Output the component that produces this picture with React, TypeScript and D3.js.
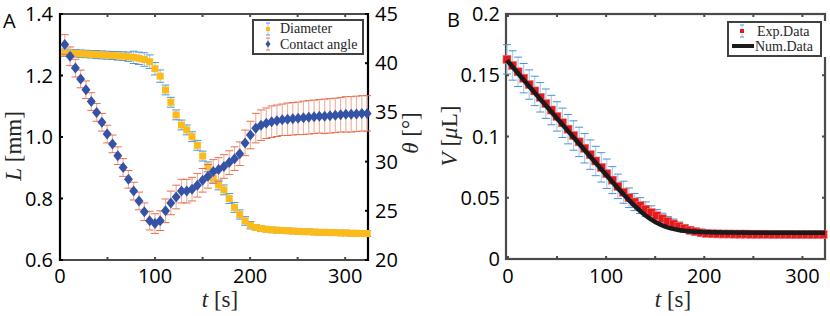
import React from 'react';
import * as d3 from 'd3';

// ---------- Panel A data ----------
const timeA = [5.0, 10.6, 16.2, 21.7, 27.3, 32.9, 38.5, 44.1, 49.6, 55.2, 60.8, 66.4, 72.0, 77.5, 83.1, 88.7, 94.3, 99.9, 105.4, 111.0, 116.6, 122.2, 127.8, 133.3, 138.9, 144.5, 150.1, 155.7, 161.2, 166.8, 172.4, 178.0, 183.6, 189.1, 194.7, 200.3, 205.9, 211.5, 217.0, 222.6, 228.2, 233.8, 239.4, 244.9, 250.5, 256.1, 261.7, 267.3, 272.8, 278.4, 284.0, 289.6, 295.2, 300.7, 306.3, 311.9, 317.5, 323.1];
const diameter = [1.274, 1.273, 1.272, 1.271, 1.270, 1.269, 1.268, 1.267, 1.266, 1.265, 1.264, 1.263, 1.261, 1.259, 1.256, 1.252, 1.245, 1.222, 1.198, 1.153, 1.113, 1.072, 1.039, 1.023, 1.001, 0.973, 0.938, 0.903, 0.866, 0.844, 0.828, 0.800, 0.771, 0.748, 0.727, 0.713, 0.706, 0.702, 0.700, 0.698, 0.697, 0.696, 0.695, 0.694, 0.693, 0.692, 0.692, 0.691, 0.690, 0.690, 0.689, 0.689, 0.688, 0.688, 0.687, 0.687, 0.686, 0.686];
const diameterErr = [0.012, 0.012, 0.012, 0.012, 0.012, 0.012, 0.013, 0.013, 0.013, 0.013, 0.014, 0.014, 0.015, 0.02, 0.02, 0.022, 0.022, 0.02, 0.02, 0.016, 0.016, 0.016, 0.016, 0.016, 0.016, 0.016, 0.016, 0.016, 0.016, 0.016, 0.016, 0.016, 0.016, 0.015, 0.014, 0.012, 0.009, 0.009, 0.009, 0.009, 0.009, 0.009, 0.009, 0.009, 0.009, 0.009, 0.009, 0.009, 0.009, 0.009, 0.009, 0.009, 0.009, 0.009, 0.009, 0.009, 0.009, 0.009];
const angle = [41.9, 40.7, 39.5, 38.4, 37.3, 36.1, 35.0, 34.0, 32.8, 31.8, 30.6, 29.4, 28.2, 27.0, 26.0, 24.9, 24.0, 23.7, 24.0, 25.0, 25.8, 26.4, 27.0, 27.0, 27.2, 27.6, 28.1, 28.5, 29.0, 29.2, 29.5, 29.9, 30.3, 30.8, 31.9, 32.7, 33.4, 33.7, 33.9, 34.05, 34.15, 34.25, 34.3, 34.35, 34.4, 34.45, 34.5, 34.55, 34.6, 34.6, 34.65, 34.7, 34.75, 34.8, 34.8, 34.85, 34.9, 34.9];
const angleErr = [1.0, 0.95, 0.9, 0.9, 0.9, 0.9, 0.9, 0.9, 0.9, 0.9, 0.9, 0.9, 0.9, 0.9, 0.9, 0.9, 0.95, 1.0, 1.0, 1.2, 1.2, 1.2, 1.2, 1.2, 1.2, 1.2, 1.2, 1.2, 1.2, 1.2, 1.2, 1.2, 1.2, 1.2, 1.3, 1.4, 1.5, 1.55, 1.55, 1.6, 1.6, 1.6, 1.65, 1.65, 1.65, 1.7, 1.7, 1.7, 1.7, 1.75, 1.75, 1.75, 1.75, 1.8, 1.8, 1.8, 1.8, 1.8];

// ---------- Panel B data ----------
const timeB = [-1.0, 4.7, 10.3, 16.0, 21.6, 27.3, 32.9, 38.6, 44.2, 49.9, 55.5, 61.2, 66.8, 72.5, 78.1, 83.8, 89.4, 95.1, 100.7, 106.4, 112.0, 117.7, 123.3, 129.0, 134.6, 140.3, 145.9, 151.6, 157.2, 162.9, 168.5, 174.2, 179.8, 185.5, 191.1, 196.8, 202.4, 208.1, 213.7, 219.4, 225.0, 230.7, 236.3, 242.0, 247.6, 253.3, 258.9, 264.6, 270.2, 275.9, 281.5, 287.2, 292.8, 298.5, 304.1, 309.8, 315.4, 321.1];
const volume = [0.1630, 0.1580, 0.1528, 0.1476, 0.1424, 0.1372, 0.1320, 0.1268, 0.1216, 0.1164, 0.1112, 0.1060, 0.1008, 0.0956, 0.0904, 0.0852, 0.0800, 0.0748, 0.0696, 0.0644, 0.0593, 0.0545, 0.0500, 0.0465, 0.0436, 0.0406, 0.0379, 0.0353, 0.0329, 0.0306, 0.0286, 0.0267, 0.0250, 0.0235, 0.0223, 0.0214, 0.0209, 0.0206, 0.0205, 0.0204, 0.0204, 0.0203, 0.0203, 0.0203, 0.0202, 0.0202, 0.0202, 0.0202, 0.0201, 0.0201, 0.0201, 0.0201, 0.0200, 0.0200, 0.0200, 0.0200, 0.0200, 0.0200];
const volumeErr = [0.012, 0.012, 0.012, 0.012, 0.012, 0.012, 0.012, 0.012, 0.012, 0.012, 0.012, 0.012, 0.012, 0.012, 0.012, 0.012, 0.012, 0.012, 0.012, 0.011, 0.010, 0.009, 0.008, 0.007, 0.0065, 0.006, 0.0055, 0.005, 0.0045, 0.004, 0.004, 0.0035, 0.003, 0.003, 0.0025, 0.0025, 0.0025, 0.0025, 0.0025, 0.0025, 0.0025, 0.0025, 0.0025, 0.0025, 0.0025, 0.0025, 0.0025, 0.0025, 0.0025, 0.0025, 0.0025, 0.0025, 0.0025, 0.0025, 0.0025, 0.0025, 0.0025, 0.0025];
const numTime = [-1, 20, 40, 60, 80, 100, 115, 125, 135, 145, 155, 165, 175, 185, 200, 230, 270, 323];
const numVolume = [0.1622, 0.1424, 0.1240, 0.1056, 0.0872, 0.0688, 0.0552, 0.0466, 0.0390, 0.0327, 0.0281, 0.0252, 0.0235, 0.0226, 0.0220, 0.0216, 0.0215, 0.0215];

// ---------- Ticks ----------
const xTicks = [0, 50, 100, 150, 200, 250, 300];
const xTickLabels = ['0', '', '100', '', '200', '', '300'];
const lTicks = [0.6, 0.8, 1.0, 1.2, 1.4];
const lTickLabels = ['0.6', '0.8', '1.0', '1.2', '1.4'];
const thetaTicks = [20, 25, 30, 35, 40, 45];
const thetaTickLabels = ['20', '25', '30', '35', '40', '45'];
const vTicks = [0, 0.05, 0.1, 0.15, 0.2];
const vTickLabels = ['0', '0.05', '0.1', '0.15', '0.2'];

const PA = { left: 60, right: 368, top: 14, bottom: 260 };
const PB = { left: 506, right: 825, top: 14, bottom: 259 };

const TICK_FONT = "'Open Sans', sans-serif";
const LABEL_FONT = "'Liberation Serif', 'Times New Roman', serif";
const AXIS_GRAY = '#4a4a4a';

function ErrorBars({ xs, ys, es, x, y, bar, cap, capW }: any) {
  return (
    <g>
      {xs.map((t: number, i: number) => {
        const cx = x(t);
        const y1 = y(ys[i] - es[i]);
        const y2 = y(ys[i] + es[i]);
        return (
          <g key={i}>
            <line x1={cx} x2={cx} y1={y1} y2={y2} stroke={bar} strokeWidth={1.2} />
            <line x1={cx - capW} x2={cx + capW} y1={y1} y2={y1} stroke={cap} strokeWidth={1} />
            <line x1={cx - capW} x2={cx + capW} y1={y2} y2={y2} stroke={cap} strokeWidth={1} />
          </g>
        );
      })}
    </g>
  );
}

export default function App() {
  const xA = d3.scaleLinear().domain([0, 324]).range([PA.left, PA.right]);
  const yL = d3.scaleLinear().domain([0.6, 1.4]).range([PA.bottom, PA.top]);
  const yT = d3.scaleLinear().domain([20, 45]).range([PA.bottom, PA.top]);
  const xB = d3.scaleLinear().domain([-2, 323]).range([PB.left, PB.right]);
  const yV = d3.scaleLinear().domain([0, 0.2]).range([PB.bottom, PB.top]);

  const numLine = d3
    .line<number>()
    .x((_, i) => xB(numTime[i]))
    .y((d) => yV(d))
    .curve(d3.curveMonotoneX)(numVolume) as string;

  const diamond = (cx: number, cy: number, w: number, h: number) =>
    `M${cx},${cy - h}L${cx + w},${cy}L${cx},${cy + h}L${cx - w},${cy}Z`;

  return (
    <svg width={830} height={316} style={{ position: 'absolute', left: 0, top: 0, background: '#fff' }}>
      {/* ================= Panel A ================= */}
      <g>
        <line x1={PA.left} x2={PA.right} y1={PA.top} y2={PA.top} stroke={AXIS_GRAY} strokeWidth={2} />
        <line x1={PA.left} x2={PA.right} y1={PA.bottom} y2={PA.bottom} stroke={AXIS_GRAY} strokeWidth={2} />
        {xTicks.map((t) => (
          <g key={'xa' + t}>
            <line x1={xA(t)} x2={xA(t)} y1={PA.bottom} y2={PA.bottom - 3} stroke={AXIS_GRAY} strokeWidth={2} />
            <line x1={xA(t)} x2={xA(t)} y1={PA.top} y2={PA.top + 3} stroke={AXIS_GRAY} strokeWidth={2} />
          </g>
        ))}
        <line x1={PA.left} x2={PA.left} y1={PA.top - 1} y2={PA.bottom + 1} stroke="#000" strokeWidth={2.2} />
        <line x1={PA.right} x2={PA.right} y1={PA.top - 1} y2={PA.bottom + 1} stroke="#000" strokeWidth={2.2} />
        {lTicks.map((v) => (
          <line key={'lt' + v} x1={PA.left} x2={PA.left + 3} y1={yL(v)} y2={yL(v)} stroke="#000" strokeWidth={2} />
        ))}
        {thetaTicks.map((v) => (
          <line key={'tt' + v} x1={PA.right} x2={PA.right - 3} y1={yT(v)} y2={yT(v)} stroke="#000" strokeWidth={2} />
        ))}
        {xTicks.map((t, i) => (
          <text key={'xal' + t} x={xA(t)} y={283} textAnchor="middle" fontFamily={TICK_FONT} fontSize={20} fill="#000">
            {xTickLabels[i]}
          </text>
        ))}
        {lTicks.map((v, i) => (
          <text key={'lal' + v} x={PA.left - 7} y={yL(v) + 7} textAnchor="end" fontFamily={TICK_FONT} fontSize={20} fill="#000">
            {lTickLabels[i]}
          </text>
        ))}
        {thetaTicks.map((v, i) => (
          <text key={'tal' + v} x={PA.right + 7} y={yT(v) + 7} textAnchor="start" fontFamily={TICK_FONT} fontSize={20} fill="#000">
            {thetaTickLabels[i]}
          </text>
        ))}
        <text x={220} y={307} textAnchor="middle" fontFamily={LABEL_FONT} fontSize={23} fill="#262626">
          <tspan fontStyle="italic">t</tspan> [s]
        </text>
        <text transform="translate(21,146) rotate(-90)" textAnchor="middle" fontFamily={LABEL_FONT} fontSize={23} fill="#262626">
          <tspan fontStyle="italic">L</tspan> [mm]
        </text>
        <text transform="translate(418,133) rotate(-90)" textAnchor="middle" fontFamily={LABEL_FONT} fontSize={23} fill="#262626">
          <tspan fontStyle="italic">θ</tspan> [°]
        </text>
        <text x={3} y={28} fontFamily={TICK_FONT} fontSize={20} fill="#000">A</text>

        {/* Diameter */}
        <ErrorBars xs={timeA} ys={diameter} es={diameterErr} x={xA} y={yL} bar="#a9cdea" cap="#4f97d4" capW={4} />
        {timeA.map((t, i) => (
          <rect key={'sq' + i} x={xA(t) - 3.5} y={yL(diameter[i]) - 3.5} width={7} height={7} fill="#fcbb18" />
        ))}
        {/* Contact angle */}
        <ErrorBars xs={timeA} ys={angle} es={angleErr} x={xA} y={yT} bar="#f4b3a0" cap="#e8704f" capW={4} />
        {timeA.map((t, i) => (
          <path key={'dm' + i} d={diamond(xA(t), yT(angle[i]), 4.5, 5.5)} fill="#3553a6" />
        ))}

        {/* legend */}
        <rect x={253} y={20} width={110} height={34} fill="#fff" stroke="#404040" strokeWidth={2} />
        <line x1={268} x2={268} y1={23} y2={35} stroke="#a9cdea" strokeWidth={1} />
        <line x1={266} x2={270} y1={23} y2={23} stroke="#4f97d4" strokeWidth={1} />
        <line x1={266} x2={270} y1={35} y2={35} stroke="#4f97d4" strokeWidth={1} />
        <rect x={266} y={27} width={4} height={4} fill="#fcbb18" />
        <text x={280} y={33} fontFamily={LABEL_FONT} fontSize={14} fill="#262626">Diameter</text>
        <line x1={268} x2={268} y1={38} y2={50} stroke="#f4b3a0" strokeWidth={1} />
        <line x1={266} x2={270} y1={38} y2={38} stroke="#e8704f" strokeWidth={1} />
        <line x1={266} x2={270} y1={50} y2={50} stroke="#e8704f" strokeWidth={1} />
        <path d={diamond(268, 44, 2.5, 3.5)} fill="#3553a6" />
        <text x={280} y={49} fontFamily={LABEL_FONT} fontSize={14} fill="#262626">Contact angle</text>
      </g>

      {/* ================= Panel B ================= */}
      <g>
        <rect x={PB.left} y={PB.top} width={PB.right - PB.left} height={PB.bottom - PB.top} fill="none" stroke={AXIS_GRAY} strokeWidth={2.2} />
        {xTicks.map((t) => (
          <g key={'xb' + t}>
            <line x1={xB(t)} x2={xB(t)} y1={PB.bottom} y2={PB.bottom - 3} stroke={AXIS_GRAY} strokeWidth={2} />
            <line x1={xB(t)} x2={xB(t)} y1={PB.top} y2={PB.top + 3} stroke={AXIS_GRAY} strokeWidth={2} />
          </g>
        ))}
        {vTicks.map((v) => (
          <g key={'vb' + v}>
            <line x1={PB.left} x2={PB.left + 3} y1={yV(v)} y2={yV(v)} stroke={AXIS_GRAY} strokeWidth={2} />
            <line x1={PB.right} x2={PB.right - 3} y1={yV(v)} y2={yV(v)} stroke={AXIS_GRAY} strokeWidth={2} />
          </g>
        ))}
        {xTicks.map((t, i) => (
          <text key={'xbl' + t} x={xB(t)} y={283} textAnchor="middle" fontFamily={TICK_FONT} fontSize={20} fill="#000">
            {xTickLabels[i]}
          </text>
        ))}
        {vTicks.map((v, i) => (
          <text key={'vbl' + v} x={PB.left - 6} y={yV(v) + 7} textAnchor="end" fontFamily={TICK_FONT} fontSize={20} fill="#000">
            {vTickLabels[i]}
          </text>
        ))}
        <text x={673} y={307} textAnchor="middle" fontFamily={LABEL_FONT} fontSize={23} fill="#262626">
          <tspan fontStyle="italic">t</tspan> [s]
        </text>
        <text transform="translate(457,136) rotate(-90)" textAnchor="middle" fontFamily={LABEL_FONT} fontSize={23} fill="#262626">
          <tspan fontStyle="italic">V</tspan> [<tspan fontStyle="italic">μ</tspan>L]
        </text>
        <text x={447} y={27} fontFamily={TICK_FONT} fontSize={20} fill="#000">B</text>

        <ErrorBars xs={timeB} ys={volume} es={volumeErr} x={xB} y={yV} bar="#a8cfee" cap="#4a92d4" capW={4} />
        {timeB.map((t, i) => (
          <rect key={'vs' + i} x={xB(t) - 4} y={yV(volume[i]) - 4} width={8} height={8} fill="#e41a1c" stroke="#f07070" strokeWidth={0.6} />
        ))}
        <path d={numLine} fill="none" stroke="#1a1a1a" strokeWidth={4.5} />

        {/* legend */}
        <rect x={821} y={21} width={6} height={36} fill="#fff" />
        <rect x={728} y={22} width={93} height={34} fill="#fff" stroke="#404040" strokeWidth={2} />
        <line x1={742} x2={742} y1={25} y2={37} stroke="#a8cfee" strokeWidth={1} />
        <line x1={740} x2={744} y1={25} y2={25} stroke="#4a92d4" strokeWidth={1} />
        <line x1={740} x2={744} y1={37} y2={37} stroke="#4a92d4" strokeWidth={1} />
        <rect x={740} y={29} width={4} height={4} fill="#e41a1c" />
        <text x={757} y={35.5} fontFamily={LABEL_FONT} fontSize={14} fill="#262626">Exp.Data</text>
        <line x1={732} x2={754} y1={46} y2={46} stroke="#1a1a1a" strokeWidth={4} />
        <text x={755} y={50.5} fontFamily={LABEL_FONT} fontSize={14} fill="#262626">Num.Data</text>
      </g>
    </svg>
  );
}
